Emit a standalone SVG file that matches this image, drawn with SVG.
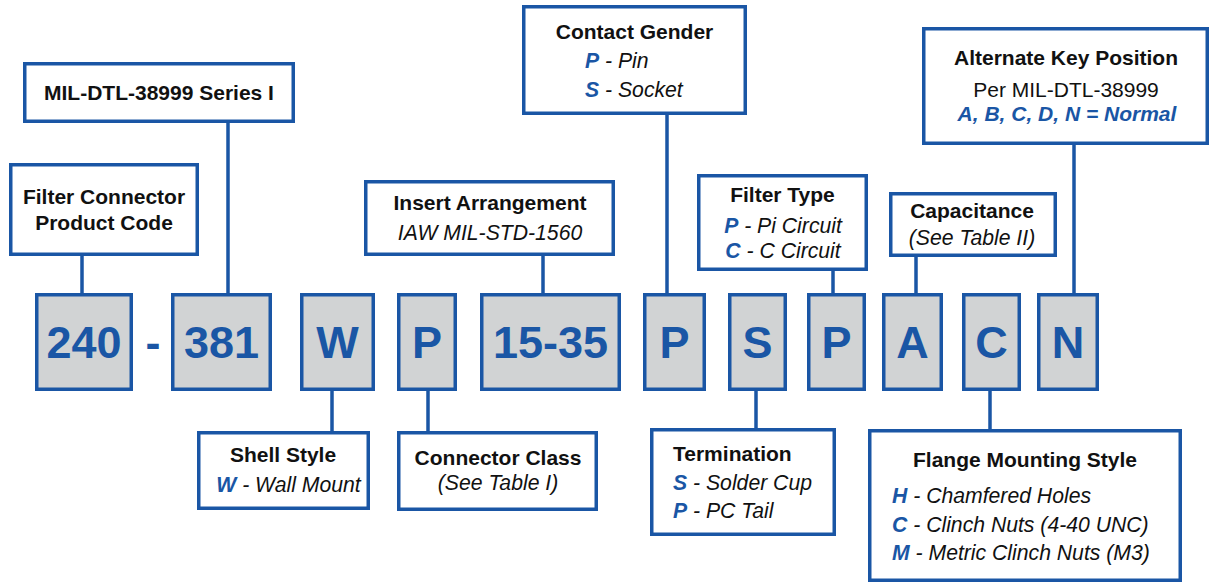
<svg xmlns="http://www.w3.org/2000/svg" width="1209" height="583" viewBox="0 0 1209 583">
<style>
  .box{fill:#ffffff;stroke:#1a56a5;stroke-width:3.5}
  .code{fill:#d1d3d4;stroke:#1a56a5;stroke-width:3.5}
  .conn{stroke:#1a56a5;stroke-width:3.5;fill:none}
  text{font-family:"Liberation Sans",Arial,sans-serif;fill:#111111}
  .big{font-size:45px;font-weight:bold;fill:#1a56a5;text-anchor:middle}
  .t{font-size:21px;font-weight:bold}
  .s{font-size:21.2px;font-style:italic}
  .r{font-size:21px}
  .k{font-weight:bold;font-style:italic;fill:#1a56a5}
  .m{text-anchor:middle}
</style>
<rect width="1209" height="583" fill="#ffffff"/>
<g id="connectors">
  <line class="conn" x1="82" y1="255" x2="82" y2="295"/>
  <line class="conn" x1="228" y1="122" x2="228" y2="295"/>
  <line class="conn" x1="332" y1="389" x2="332" y2="433"/>
  <line class="conn" x1="428" y1="389" x2="428" y2="433"/>
  <line class="conn" x1="543" y1="255" x2="543" y2="295"/>
  <line class="conn" x1="667" y1="114" x2="667" y2="295"/>
  <line class="conn" x1="756" y1="389" x2="756" y2="430"/>
  <line class="conn" x1="833" y1="270" x2="833" y2="295"/>
  <line class="conn" x1="916" y1="256" x2="916" y2="295"/>
  <line class="conn" x1="990" y1="389" x2="990" y2="431"/>
  <line class="conn" x1="1074" y1="144" x2="1074" y2="295"/>
</g>
<g id="code-240"><rect class="code" x="36.75" y="294.75" width="94.5" height="94.5"/><text class="big" x="84" y="358">240</text></g>
<g id="dash"><text class="big" x="153" y="358">-</text></g>
<g id="code-381"><rect class="code" x="172.75" y="294.75" width="97.5" height="94.5"/><text class="big" x="221.5" y="358">381</text></g>
<g id="code-W"><rect class="code" x="301.75" y="294.75" width="71.5" height="94.5"/><text class="big" x="337.5" y="358">W</text></g>
<g id="code-P1"><rect class="code" x="398.75" y="294.75" width="56.5" height="94.5"/><text class="big" x="427" y="358">P</text></g>
<g id="code-1535"><rect class="code" x="481.75" y="294.75" width="137.5" height="94.5"/><text class="big" x="550.5" y="358">15-35</text></g>
<g id="code-P2"><rect class="code" x="644.75" y="294.75" width="59.5" height="94.5"/><text class="big" x="674.5" y="358">P</text></g>
<g id="code-S"><rect class="code" x="729.75" y="294.75" width="55.5" height="94.5"/><text class="big" x="757.5" y="358">S</text></g>
<g id="code-P3"><rect class="code" x="808.75" y="294.75" width="55.5" height="94.5"/><text class="big" x="836.5" y="358">P</text></g>
<g id="code-A"><rect class="code" x="883.75" y="294.75" width="57.5" height="94.5"/><text class="big" x="912.5" y="358">A</text></g>
<g id="code-C"><rect class="code" x="963.75" y="294.75" width="55.5" height="94.5"/><text class="big" x="991.5" y="358">C</text></g>
<g id="code-N"><rect class="code" x="1038.75" y="294.75" width="58.5" height="94.5"/><text class="big" x="1068" y="358">N</text></g>

<g id="mil-dtl"><rect class="box" x="24.75" y="63.75" width="268.5" height="57.5"/><text class="t m" x="159" y="100">MIL-DTL-38999 Series I</text></g>
<g id="product-code"><rect class="box" x="10.75" y="164.75" width="186.5" height="89.5"/><text class="t m" x="104" y="204">Filter Connector</text><text class="t m" x="104" y="230">Product Code</text></g>
<g id="insert-arrangement"><rect class="box" x="365.75" y="181.75" width="247.5" height="72.5"/><text class="t m" x="490" y="210">Insert Arrangement</text><text class="s m" x="490" y="240">IAW MIL-STD-1560</text></g>
<g id="contact-gender"><rect class="box" x="523.75" y="6.75" width="221.5" height="106.5"/><text class="t m" x="634.5" y="39">Contact Gender</text><text class="s" x="585" y="68"><tspan class="k">P</tspan> - Pin</text><text class="s" x="585" y="97"><tspan class="k">S</tspan> - Socket</text></g>
<g id="filter-type"><rect class="box" x="698.75" y="175.75" width="167.5" height="93.5"/><text class="t m" x="782.5" y="202">Filter Type</text><text class="s m" x="783" y="233"><tspan class="k">P</tspan> - Pi Circuit</text><text class="s m" x="783" y="258"><tspan class="k">C</tspan> - C Circuit</text></g>
<g id="capacitance"><rect class="box" x="890.75" y="193.75" width="164.5" height="61.5"/><text class="t m" x="972" y="218">Capacitance</text><text class="s m" x="972" y="245">(See Table II)</text></g>
<g id="alternate-key"><rect class="box" x="923.75" y="28.75" width="283.5" height="114.5"/><text class="t m" x="1066" y="65">Alternate Key Position</text><text class="r m" x="1066" y="97">Per MIL-DTL-38999</text><text class="t m k" x="1067" y="121" style="font-style:italic">A, B, C, D, N = Normal</text></g>

<g id="shell-style"><rect class="box" x="198.75" y="432.75" width="169.5" height="75.5"/><text class="t m" x="283" y="462">Shell Style</text><text class="s m" x="288.5" y="492"><tspan class="k">W</tspan> - Wall Mount</text></g>
<g id="connector-class"><rect class="box" x="398.75" y="432.75" width="197.5" height="76.5"/><text class="t m" x="498" y="465">Connector Class</text><text class="s m" x="498" y="490">(See Table I)</text></g>
<g id="termination"><rect class="box" x="651.75" y="429.75" width="182.5" height="104.5"/><text class="t" x="673" y="461">Termination</text><text class="s" x="673" y="490"><tspan class="k">S</tspan> - Solder Cup</text><text class="s" x="673" y="518"><tspan class="k">P</tspan> - PC Tail</text></g>
<g id="flange-mounting"><rect class="box" x="869.75" y="430.75" width="310.5" height="149.5"/><text class="t m" x="1025" y="467">Flange Mounting Style</text><text class="s" x="892" y="503"><tspan class="k">H</tspan> - Chamfered Holes</text><text class="s" x="892" y="532"><tspan class="k">C</tspan> - Clinch Nuts (4-40 UNC)</text><text class="s" x="892" y="560"><tspan class="k">M</tspan> - Metric Clinch Nuts (M3)</text></g>
</svg>
